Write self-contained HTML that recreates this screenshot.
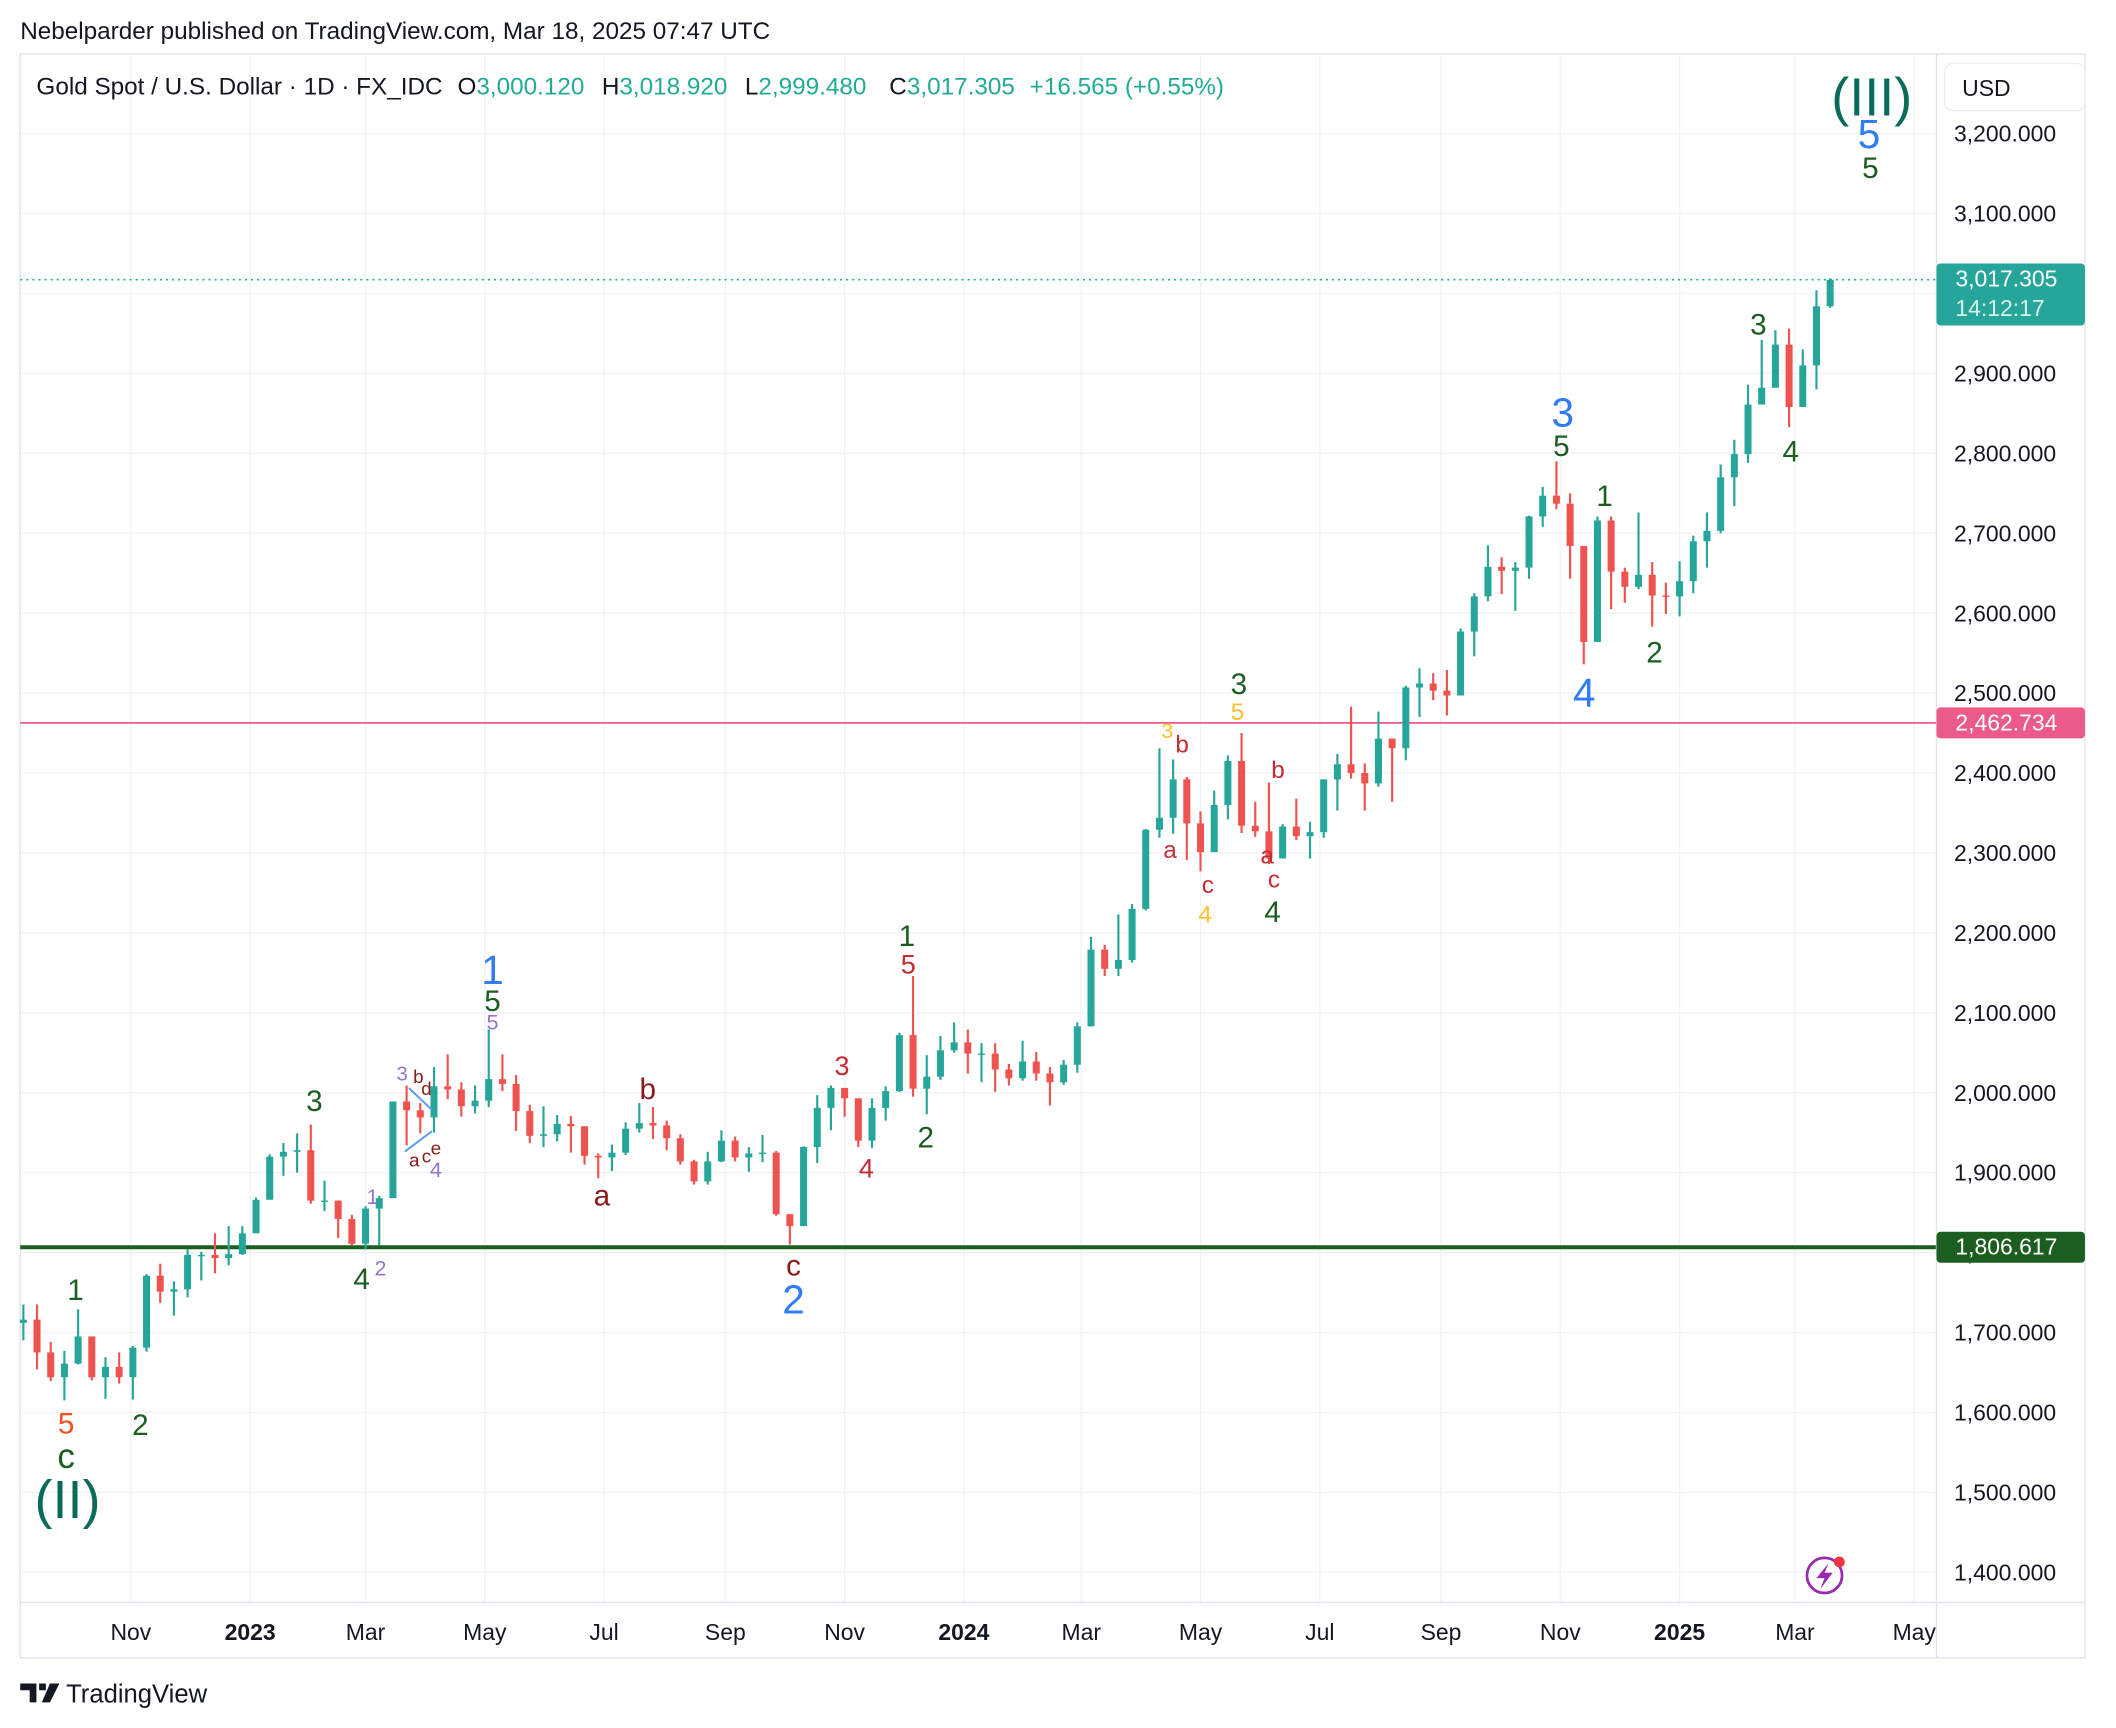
<!DOCTYPE html>
<html><head><meta charset="utf-8">
<style>
html,body{margin:0;padding:0;background:#fff;}
svg{display:block;font-family:"Liberation Sans",Arial,sans-serif;}
</style></head>
<body>
<svg id="c" width="2116" height="1728" viewBox="0 0 1568 1280" preserveAspectRatio="none" xmlns="http://www.w3.org/2000/svg">
<rect x="0" y="0" width="1568" height="1280" fill="#fff"/>
<text x="15" y="29" font-size="18" fill="#131722">Nebelparder published on TradingView.com, Mar 18, 2025 07:47 UTC</text>
<rect x="15" y="40" width="1530" height="1188" fill="none" stroke="#e0e3eb" stroke-width="1"/>
<g id="grid"></g>
<g id="levels"></g>
<g id="bars"></g>
<g id="ann"></g>
<line x1="1435" y1="40" x2="1435" y2="1228" stroke="#e0e3eb"/>
<line x1="15" y1="1187" x2="1545" y2="1187" stroke="#e0e3eb"/>
<g id="yax"></g>
<g id="xax"></g>
<rect x="1441" y="47" width="104" height="35" rx="6" fill="#fff" stroke="#eceef2"/>
<text x="1454" y="71" font-size="17" fill="#131722">USD</text>
<g font-size="18">
<text x="27" y="70" fill="#131722">Gold Spot / U.S. Dollar · 1D · FX_IDC</text>
<text x="339" y="70" fill="#131722">O<tspan fill="#22ab94">3,000.120</tspan></text>
<text x="446" y="70" fill="#131722">H<tspan fill="#22ab94">3,018.920</tspan></text>
<text x="552" y="70" fill="#131722">L<tspan fill="#22ab94">2,999.480</tspan></text>
<text x="659" y="70" fill="#131722">C<tspan fill="#22ab94">3,017.305</tspan></text>
<text x="763" y="70" fill="#22ab94">+16.565 (+0.55%)</text>
</g>
<g>
<circle cx="1352" cy="1167" r="13" fill="none" stroke="#9c27b0" stroke-width="2"/>
<path d="M1355 1158 L1346 1169 L1352 1169 L1349 1177 L1358 1165 L1352 1165 Z" fill="#9c27b0"/>
<circle cx="1363" cy="1157" r="4" fill="#f23645"/>
</g>
<g>
<path d="M15 1247 h12 v14 h-5 v-9 h-7z M29 1247 h5 v5 h-5z M37 1247 h7 l-7 14 h-6z" fill="#131722"/>
<text x="49" y="1261" font-size="19" fill="#131722">TradingView</text>
</g>
</svg>
<script>
const weekClose=[1716,1675,1644,1661,1695,1644,1657,1644,1681,1771,1751,1754,1797,1797,1793,1798,1824,
1866,1920,1926,1928,1865,1865,1842,1811,1855,1868,1989,1978,1969,2008,2004,1983,1990,2017,2011,1977,1946,1948,1961,1958,1921,1919,1925,1955,1962,1959,1943,1914,1889,1914,1940,1919,1924,1925,1848,1833,1932,1981,2006,1993,1940,1981,2002,2072,2005,2020,2053,2063,
2049,2049,2029,2018,2039,2024,2013,2035,2083,2179,2155,2166,2230,2329,2344,2392,2337,2301,2360,2415,2334,2327,2293,2333,2321,2326,2392,2411,2400,2387,2443,2431,2507,2512,2503,2497,2577,2621,2658,2653,2657,2721,2747,2737,2684,2564,2716,2652,2633,2648,2622,2621,2640,
2690,2703,2770,2799,2861,2882,2936,2858,2910,2984,3017];
const weekHigh=[1735,1735,1688,1677,1729,1687,1669,1675,1683,1773,1786,1764,1804,1801,1824,1833,1833,
1869,1923,1937,1949,1960,1890,1865,1847,1858,1871,1989,2009,1987,2032,2048,2013,2009,2079,2048,2022,1985,1983,1972,1971,1937,1924,1935,1963,1987,1982,1965,1948,1916,1926,1953,1945,1932,1947,1927,1843,1933,1997,2009,2004,1993,1993,2008,2075,2146,2047,2071,2088,
2079,2062,2062,2036,2065,2051,2032,2041,2088,2195,2185,2223,2236,2330,2431,2417,2395,2352,2378,2422,2450,2364,2388,2336,2368,2339,2392,2424,2483,2412,2477,2431,2509,2531,2525,2529,2581,2625,2685,2670,2664,2722,2758,2790,2750,2681,2721,2721,2657,2726,2664,2638,2665,
2697,2726,2786,2817,2886,2942,2954,2956,2930,3004,3019];
const weekLow=[1690,1654,1639,1615,1660,1640,1617,1636,1616,1676,1737,1721,1744,1765,1774,1784,1797,
1825,1867,1896,1900,1861,1852,1818,1809,1804,1809,1876,1934,1949,1950,1992,1970,1974,1982,2002,1952,1937,1932,1939,1925,1910,1893,1902,1922,1950,1942,1928,1910,1885,1885,1913,1914,1901,1913,1846,1810,1836,1912,1953,1970,1932,1931,1965,2001,1995,1973,2016,2050,
2024,2013,2001,2009,2015,2015,1984,2010,2025,2083,2146,2146,2163,2228,2319,2324,2291,2277,2304,2342,2325,2320,2286,2297,2316,2293,2319,2353,2393,2353,2383,2364,2416,2470,2491,2472,2500,2546,2615,2624,2603,2643,2708,2730,2643,2536,2564,2605,2613,2630,2583,2599,2596,
2625,2657,2700,2734,2788,2863,2916,2833,2880,2880,2982];
const firstOpen=1712;
const priceTicks=[1400,1500,1600,1700,1800,1900,2000,2100,2200,2300,2400,2500,2600,2700,2800,2900,3000,3100,3200];
const monthLabels=["Nov","2023","Mar","May","Jul","Sep","Nov","2024","Mar","May","Jul","Sep","Nov","2025","Mar","May"];
const monthDays=[0,61,120,181,242,304,365,426,486,547,608,670,731,792,851,912];
const levelValues=[1806.617,2462.734,3017.305];

const NS="http://www.w3.org/2000/svg";
function yS(p){return 99+(3200-p)*0.592;}
function xS(d){return 97+d*1.449;}
function el(tag,attrs,parent,text){const e=document.createElementNS(NS,tag);for(const k in attrs)e.setAttribute(k,attrs[k]);if(text!==undefined)e.textContent=text;parent.appendChild(e);return e;}
const grid=document.getElementById('grid'),yax=document.getElementById('yax'),xax=document.getElementById('xax');
priceTicks.forEach(p=>{
  const l=el('line',{x1:15,x2:1435,y1:yS(p),y2:yS(p),stroke:'#f0f2f5','stroke-width':1},grid);
  
  
  if(p===3000)return;
  const t=el('text',{x:1448,y:yS(p)+6,'font-size':17,fill:'#131722'},yax,p.toLocaleString('en-US',{minimumFractionDigits:3}));
  
  
});
monthLabels.forEach((m,i)=>{
  const x=xS(monthDays[i]);
  const l=el('line',{x1:x,x2:x,y1:40,y2:1187,stroke:'#f0f2f5','stroke-width':1},grid);
  
  
  const bold=/^\d/.test(m);
  const t=el('text',{x:x,y:1215,'font-size':17,fill:'#131722','text-anchor':'middle','font-weight':bold?'bold':'normal'},xax,m);
  
  
});
const lv=document.getElementById('levels');
let g=el('line',{x1:15,x2:1435,y1:yS(levelValues[0]),y2:yS(levelValues[0]),stroke:'#1b5e20','stroke-width':3},lv);


g=el('line',{x1:15,x2:1435,y1:yS(levelValues[1]),y2:yS(levelValues[1]),stroke:'#ec5a87','stroke-width':1.3},lv);


g=el('line',{x1:15,x2:1435,y1:yS(levelValues[2]),y2:yS(levelValues[2]),stroke:'#22ab94','stroke-width':1.2,'stroke-dasharray':'1.5 3'},lv);


function badge(v,color,name,sub){
  const y=yS(v);const h=sub?46:23;const top=sub?y-12:y-11.5;
  const r=el('rect',{x:1435,y:top,width:110,height:h,rx:3,fill:color},yax);
  
  
  const t=el('text',{x:1449,y:top+17,'font-size':17,fill:'#fff'},yax,v.toLocaleString('en-US',{minimumFractionDigits:3}));
  
  
  if(sub){const s=el('text',{x:1449,y:top+39,'font-size':17,fill:'#d8f1ec'},yax,sub);
  
  }
}
badge(levelValues[0],'#1b5e20','support-badge');
badge(levelValues[1],'#ec5a87','resistance-badge');
badge(levelValues[2],'#26a69a','last-price-badge','14:12:17');
const bars=document.getElementById('bars');
weekClose.forEach((c,i)=>{
  const o=i===0?firstOpen:weekClose[i-1];
  const x=xS(i*7-55);
  const col=c>=o?'#26a69a':'#ef5350';
  const w=el('line',{x1:x,x2:x,y1:yS(weekHigh[i]),y2:yS(weekLow[i]),stroke:col,'stroke-width':1.6},bars);
  
  
  const top=yS(Math.max(o,c)),bot=yS(Math.min(o,c));
  const b=el('rect',{x:x-2.6,y:top,width:5.2,height:Math.max(1,bot-top),fill:col},bars);
  
  
});
const G='#1b5e20',B='#2f7cf6',M='#8b1a1a',R='#c62a35',O='#f4511e',P='#9575cd',Y='#fbc02d',T='#0b6b5b';
const labels=[["(II)",50,1110,T,40],["c",49,1078,G,26],["5",49,1054,O,22],["1",56,955,G,22],["2",104,1055,G,22],
["3",233,815,G,22],["4",268,947,G,22],["2",282,939,P,16],["1",276,886,P,16],["3",298,795,P,15],["b",310,797,M,14],["d",316,806,M,14],
["a",307,859,M,14],["c",316,856,M,14],["e",323,850,M,14],["4",323,866,P,16],
["1",365,718,B,30],["5",365,741,G,22],["5",365,757,P,16],["a",446,885,M,22],["b",480,806,M,22],["c",588,937,M,22],["2",588,962,B,30],
["3",624,789,R,20],["4",642,865,R,20],["1",672,693,G,22],["5",673,714,R,20],["2",686,842,G,22],
["3",865,541,Y,16],["b",876,551,R,18],["a",867,629,R,18],["c",895,655,R,18],["4",893,677,Y,18],
["3",918,506,G,22],["5",917,527,Y,18],["b",947,570,R,18],["a",939,633,R,18],["c",944,651,R,18],["4",943,675,G,22],
["3",1158,305,B,30],["5",1157,330,G,22],["4",1174,513,B,30],["1",1189,367,G,22],["2",1226,483,G,22],["3",1303,240,G,22],["4",1327,334,G,22],
["(III)",1387,71,T,40],["5",1385,99,B,30],["5",1386,124,G,22]];
const ann=document.getElementById('ann');
labels.forEach(a=>{
  const t=el('text',{x:a[1],y:a[2]+a[4]*0.36,'font-size':a[4],fill:a[3],'text-anchor':'middle'},ann,a[0]);
  
  
});
const tri=el('path',{d:'M303 806 L320 822 M300 853 L320 838',stroke:'#5c9cf5','stroke-width':1.5,fill:'none'},ann);


</script>
</body></html>
